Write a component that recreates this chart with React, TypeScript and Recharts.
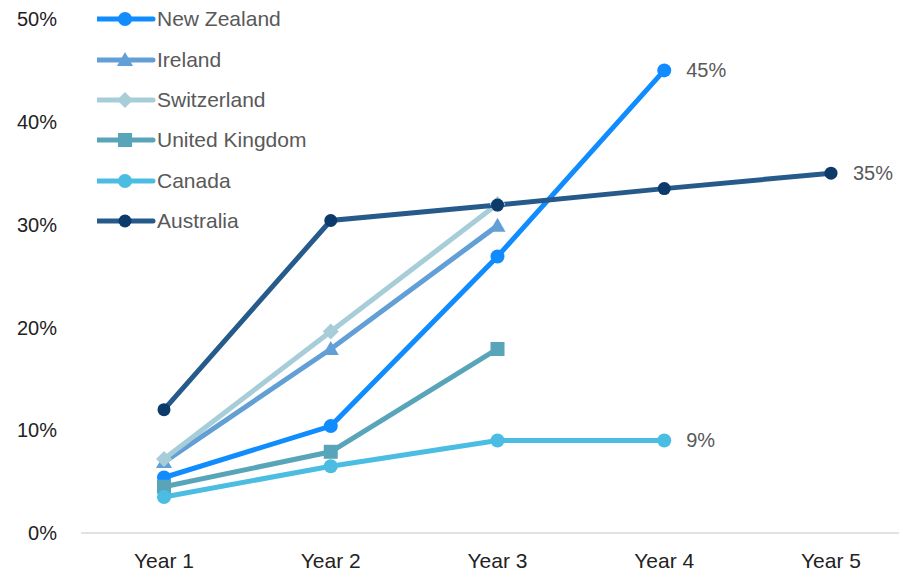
import React from "react";
import { LineChart, Line, XAxis, YAxis, Legend } from "recharts";

const years = ["Year 1", "Year 2", "Year 3", "Year 4", "Year 5"];
const newZealand = [5.4, 10.4, 26.9, 45, null];
const ireland = [6.9, 17.9, 29.9, null, null];
const switzerland = [7.2, 19.6, 32, null, null];
const unitedKingdom = [4.5, 7.9, 17.9, null, null];
const canada = [3.5, 6.5, 9, 9, null];
const australia = [12, 30.4, 31.9, 33.5, 35];
const yTicks = [0, 10, 20, 30, 40, 50];

type Shape = "circle" | "triangle" | "diamond" | "square";

interface SeriesDef {
  key: string;
  name: string;
  values: (number | null)[];
  stroke: string;
  markerFill: string;
  shape: Shape;
  size: number;
  endLabel: boolean;
}

const series: SeriesDef[] = [
  { key: "nz", name: "New Zealand", values: newZealand, stroke: "#118cff", markerFill: "#118cff", shape: "circle", size: 7, endLabel: true },
  { key: "ie", name: "Ireland", values: ireland, stroke: "#629fd6", markerFill: "#629fd6", shape: "triangle", size: 8, endLabel: false },
  { key: "ch", name: "Switzerland", values: switzerland, stroke: "#a6cdd8", markerFill: "#a6cdd8", shape: "diamond", size: 8, endLabel: false },
  { key: "uk", name: "United Kingdom", values: unitedKingdom, stroke: "#58a5ba", markerFill: "#58a5ba", shape: "square", size: 7, endLabel: false },
  { key: "ca", name: "Canada", values: canada, stroke: "#4bbde2", markerFill: "#4bbde2", shape: "circle", size: 7, endLabel: true },
  { key: "au", name: "Australia", values: australia, stroke: "#265a8a", markerFill: "#0c3a6b", shape: "circle", size: 6.5, endLabel: true },
];

const data = years.map((year, i) => {
  const row: Record<string, string | number | null> = { year };
  series.forEach((s) => {
    row[s.key] = s.values[i];
  });
  return row;
});

const FONT = "'Liberation Sans', Arial, sans-serif";

function Marker({ shape, cx, cy, size, fill }: { shape: Shape; cx: number; cy: number; size: number; fill: string }) {
  if (shape === "circle") return <circle cx={cx} cy={cy} r={size} fill={fill} />;
  if (shape === "square")
    return <rect x={cx - size} y={cy - size} width={size * 2} height={size * 2} fill={fill} />;
  if (shape === "diamond")
    return (
      <polygon
        points={`${cx},${cy - size} ${cx + size},${cy} ${cx},${cy + size} ${cx - size},${cy}`}
        fill={fill}
      />
    );
  return (
    <polygon
      points={`${cx},${cy - size} ${cx + size},${cy + size * 0.75} ${cx - size},${cy + size * 0.75}`}
      fill={fill}
    />
  );
}

const makeDot = (s: SeriesDef) => (props: any) => {
  const { cx, cy, index, value } = props;
  if (cx == null || cy == null || value == null || Number.isNaN(cy)) return <g key={`${s.key}-${index}`} />;
  return (
    <g key={`${s.key}-${index}`}>
      <Marker shape={s.shape} cx={cx} cy={cy} size={s.size} fill={s.markerFill} />
    </g>
  );
};

const lastIndex = (vals: (number | null)[]) => {
  let idx = -1;
  vals.forEach((v, i) => {
    if (v != null) idx = i;
  });
  return idx;
};

const makeLabel = (s: SeriesDef) => (props: any) => {
  const { x, y, index, value } = props;
  if (!s.endLabel || index !== lastIndex(s.values) || value == null) return null;
  return (
    <text
      key={`${s.key}-label`}
      x={x + 22}
      y={y}
      dy="0.35em"
      fill="#595959"
      fontSize={20}
      fontFamily={FONT}
      textAnchor="start"
    >
      {`${Math.round(value)}%`}
    </text>
  );
};

const LegendContent = () => (
  <div style={{ fontFamily: FONT }}>
    {series.map((s) => (
      <div key={s.key} style={{ display: "flex", alignItems: "center", height: 40.4 }}>
        <svg width={60} height={20} style={{ display: "block" }}>
          <line x1={0} y1={10} x2={56} y2={10} stroke={s.stroke} strokeWidth={5} strokeLinecap="round" />
          <Marker shape={s.shape} cx={28} cy={10} size={s.size} fill={s.markerFill} />
        </svg>
        <span style={{ fontSize: 21, color: "#595959", lineHeight: "20px" }}>{s.name}</span>
      </div>
    ))}
  </div>
);

export default function App() {
  return (
    <div
      style={{
        position: "absolute",
        left: 0,
        top: 0,
        width: 899,
        height: 572,
        overflow: "hidden",
        background: "#fff",
      }}
    >
      <LineChart
        width={914}
        height={572}
        data={data}
        margin={{ top: 19, right: 0, bottom: 0, left: 0 }}
      >
        <XAxis
          dataKey="year"
          axisLine={{ stroke: "#d9d9d9", strokeWidth: 1.5 }}
          tickLine={false}
          tickSize={0}
          tickMargin={20}
          height={39}
          interval={0}
          padding={{ left: 83, right: 83 }}
          tick={{ fill: "#222", fontSize: 21, fontFamily: FONT }}
        />
        <YAxis
          domain={[0, 50]}
          ticks={yTicks}
          tickFormatter={(v: number) => `${v}%`}
          axisLine={false}
          tickLine={false}
          tickSize={0}
          tickMargin={24}
          width={81}
          tick={{ fill: "#222", fontSize: 20, fontFamily: FONT }}
        />
        <Legend
          layout="vertical"
          verticalAlign="middle"
          align="center"
          content={<LegendContent />}
          wrapperStyle={{ top: -1, left: 97, width: 260, transform: "none" }}
        />
        {series.map((s) => (
          <Line
            key={s.key}
            dataKey={s.key}
            name={s.name}
            stroke={s.stroke}
            strokeWidth={5}
            dot={makeDot(s)}
            activeDot={false}
            label={makeLabel(s)}
            isAnimationActive={false}
            connectNulls={false}
          />
        ))}
      </LineChart>
    </div>
  );
}
